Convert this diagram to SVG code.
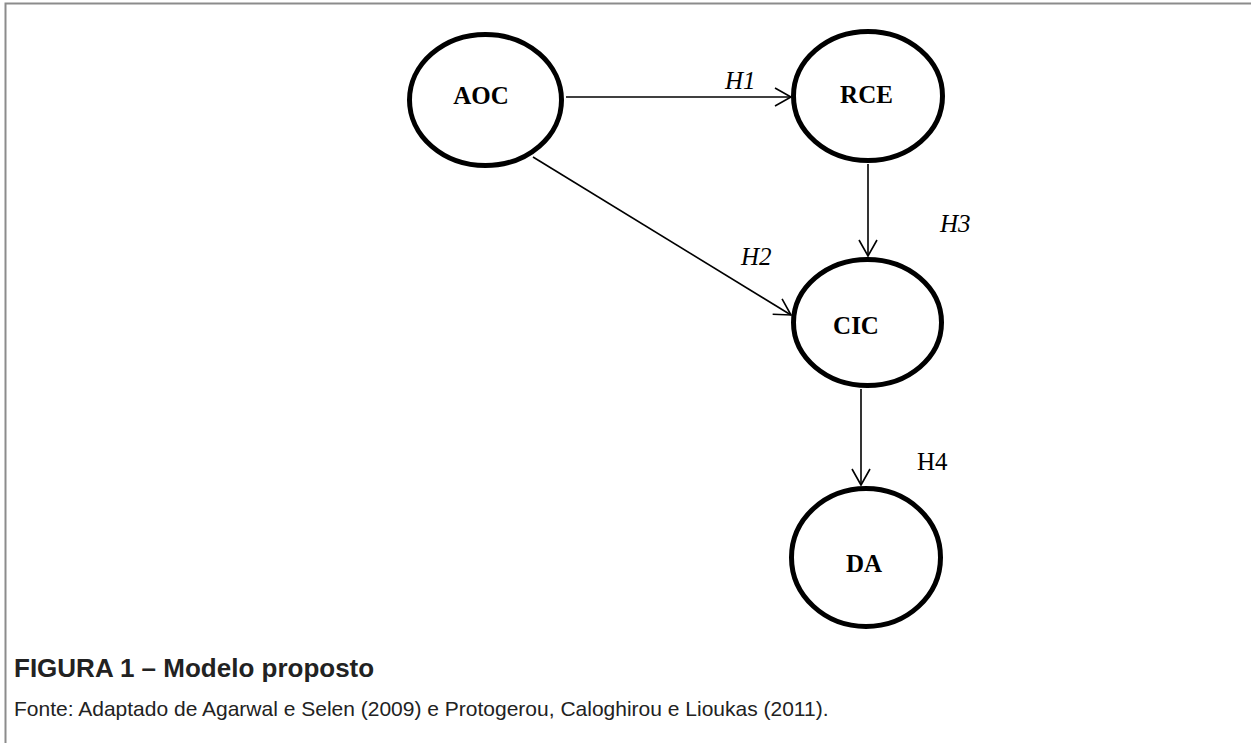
<svg xmlns="http://www.w3.org/2000/svg" width="1251" height="743" viewBox="0 0 1251 743">
<style>
.node{fill:#fff;stroke:#000;stroke-width:5}
.lbl{font-family:"Liberation Serif","Times New Roman",serif;font-weight:bold;font-size:25px;fill:#000;text-anchor:middle}
.h{font-family:"Liberation Serif","Times New Roman",serif;font-size:25px;fill:#000}
.edge{stroke:#000;stroke-width:1.6;fill:none;marker-end:url(#arr)}
.cap{font-family:"Liberation Sans",Arial,sans-serif;fill:#222}
</style>
<defs>
<marker id="arr" markerUnits="userSpaceOnUse" markerWidth="20" markerHeight="20" refX="18" refY="10" orient="auto" overflow="visible">
<path d="M2,1 L18,10 L2,19" fill="none" stroke="#000" stroke-width="1.6"/>
</marker>
</defs>
<rect width="1251" height="743" fill="#fff"/>
<g id="frame">
<path d="M5.5,743 V3.5 H1251" fill="none" stroke="#8c8c8c" stroke-width="2"/>
</g>
<g id="connectors">
<path class="edge" d="M566,97 L791,97"/>
<path class="edge" d="M533,157 L791,315"/>
<path class="edge" d="M868,164 L868,256"/>
<path class="edge" d="M861,389 L861,485"/>
<text class="h" x="725" y="89" font-style="italic">H1</text>
<text class="h" x="741" y="265" font-style="italic">H2</text>
<text class="h" x="940" y="232" font-style="italic">H3</text>
<text class="h" x="917" y="470">H4</text>
</g>
<g id="AOC">
<ellipse class="node" cx="485.5" cy="100" rx="76" ry="65.5"/>
<text class="lbl" x="481" y="104">AOC</text>
</g>
<g id="RCE">
<ellipse class="node" cx="868" cy="96" rx="74.5" ry="64.5"/>
<text class="lbl" x="866.5" y="103">RCE</text>
</g>
<g id="CIC">
<ellipse class="node" cx="867.5" cy="322.5" rx="74" ry="63"/>
<text class="lbl" x="856" y="334">CIC</text>
</g>
<g id="DA">
<ellipse class="node" cx="866" cy="557.5" rx="74.5" ry="69"/>
<text class="lbl" x="864" y="572">DA</text>
</g>
<g id="caption">
<text class="cap" x="14" y="677" font-size="26" font-weight="bold">FIGURA 1 – Modelo proposto</text>
<text class="cap" x="14" y="716" font-size="21">Fonte: Adaptado de Agarwal e Selen (2009) e Protogerou, Caloghirou e Lioukas (2011).</text>
</g>
</svg>
